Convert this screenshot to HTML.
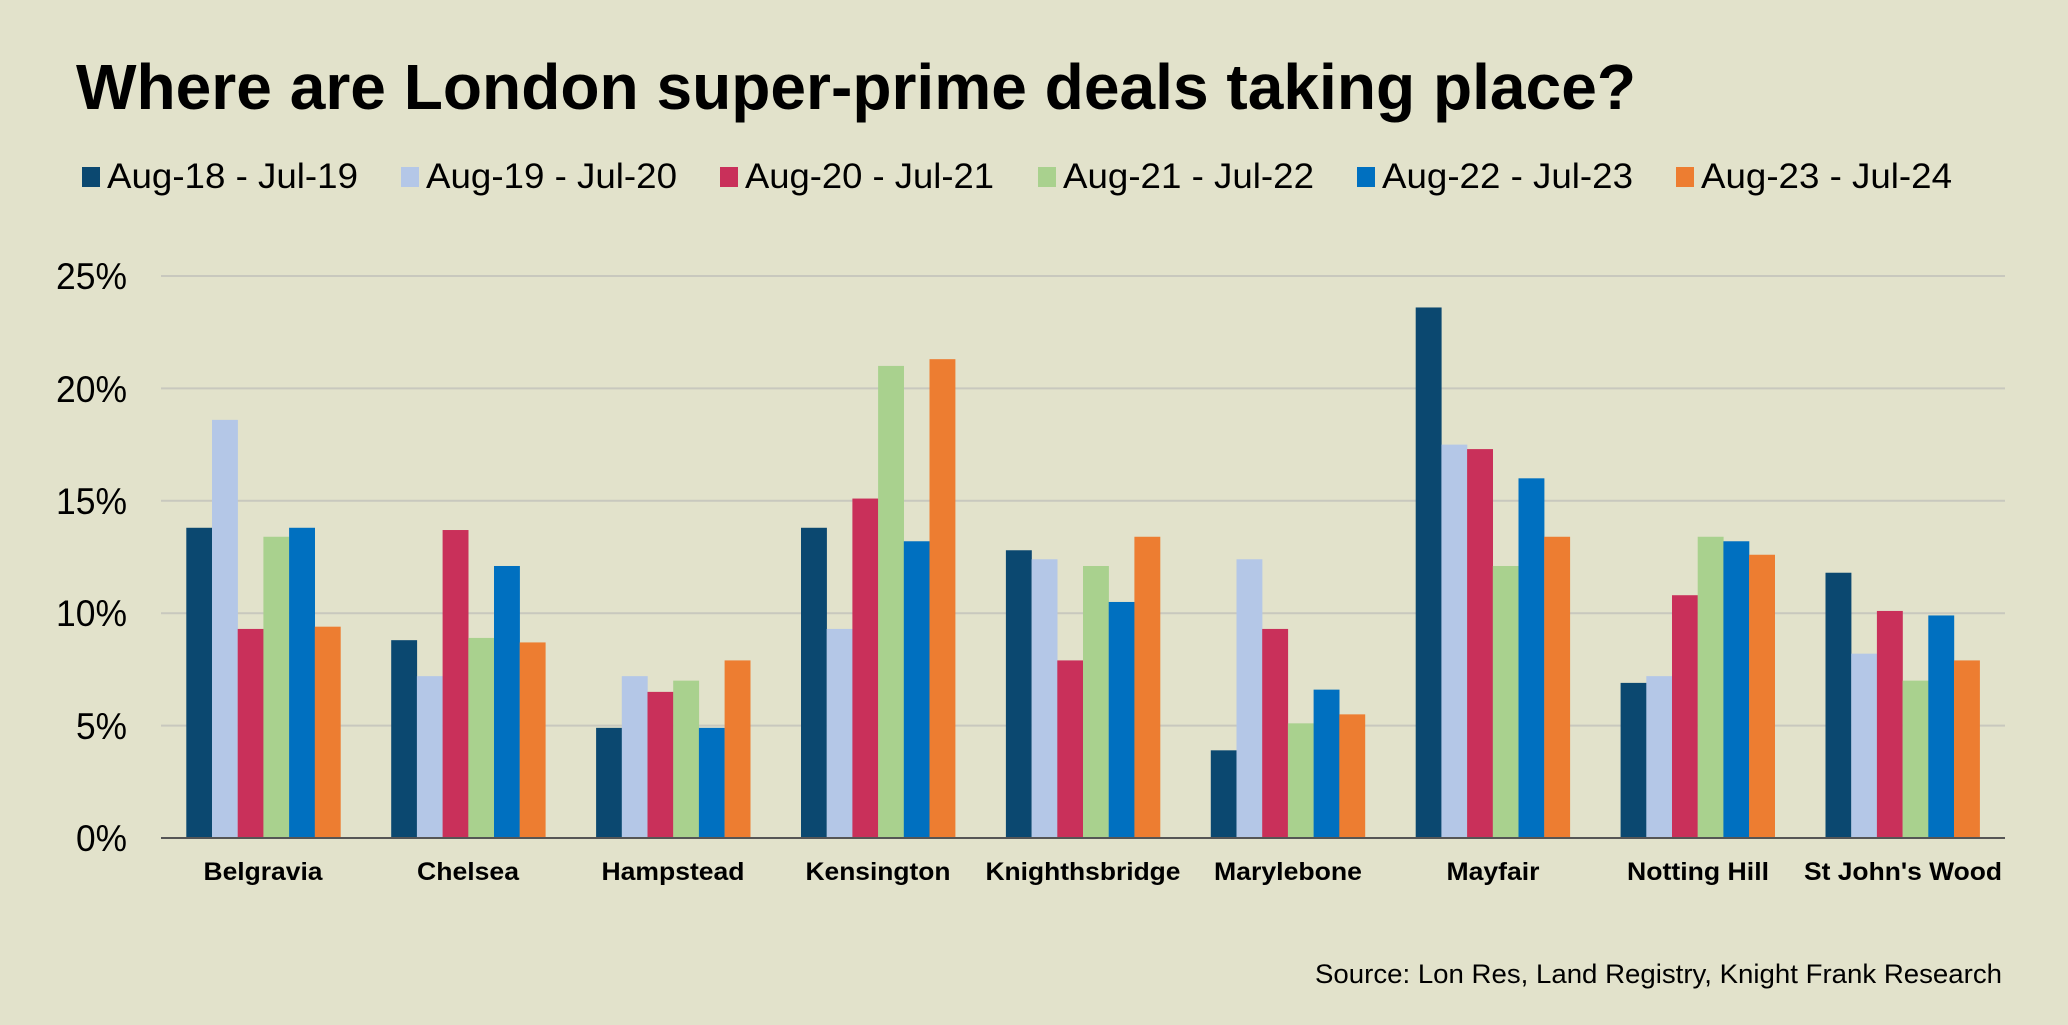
<!DOCTYPE html>
<html><head><meta charset="utf-8"><style>
html,body{margin:0;padding:0;background:#e2e2cb;}
svg{display:block;}
text{font-family:"Liberation Sans",Arial,sans-serif;fill:#000;}
</style></head><body>
<svg id="c" width="2068" height="1025" viewBox="0 0 2068 1025" xmlns="http://www.w3.org/2000/svg">
<rect width="2068" height="1025" fill="#e2e2cb"/>
<text x="76" y="109" font-size="64" font-weight="bold" textLength="1560" lengthAdjust="spacingAndGlyphs">Where are London super-prime deals taking place?</text>
<g font-size="35">
<rect x="82" y="167" width="18" height="20" fill="#0b4870"/><text x="107" y="188" textLength="251" lengthAdjust="spacingAndGlyphs">Aug-18 - Jul-19</text>
<rect x="401" y="167" width="18" height="20" fill="#b4c7e7"/><text x="426" y="188" textLength="251" lengthAdjust="spacingAndGlyphs">Aug-19 - Jul-20</text>
<rect x="720" y="167" width="18" height="20" fill="#c9305a"/><text x="745" y="188" textLength="249" lengthAdjust="spacingAndGlyphs">Aug-20 - Jul-21</text>
<rect x="1038" y="167" width="18" height="20" fill="#a9d18e"/><text x="1063" y="188" textLength="251" lengthAdjust="spacingAndGlyphs">Aug-21 - Jul-22</text>
<rect x="1357" y="167" width="18" height="20" fill="#0070c0"/><text x="1382" y="188" textLength="251" lengthAdjust="spacingAndGlyphs">Aug-22 - Jul-23</text>
<rect x="1676" y="167" width="18" height="20" fill="#ed7d31"/><text x="1701" y="188" textLength="251" lengthAdjust="spacingAndGlyphs">Aug-23 - Jul-24</text>
</g>
<g stroke="#c8c8be" stroke-width="2">
<line x1="161" x2="2005" y1="276" y2="276"/>
<line x1="161" x2="2005" y1="388.4" y2="388.4"/>
<line x1="161" x2="2005" y1="500.8" y2="500.8"/>
<line x1="161" x2="2005" y1="613.2" y2="613.2"/>
<line x1="161" x2="2005" y1="725.6" y2="725.6"/>
</g>
<g font-size="37" text-anchor="end">
<text x="127" y="289" textLength="71" lengthAdjust="spacingAndGlyphs">25%</text>
<text x="127" y="402" textLength="71" lengthAdjust="spacingAndGlyphs">20%</text>
<text x="127" y="514" textLength="71" lengthAdjust="spacingAndGlyphs">15%</text>
<text x="127" y="626" textLength="71" lengthAdjust="spacingAndGlyphs">10%</text>
<text x="127" y="739" textLength="51" lengthAdjust="spacingAndGlyphs">5%</text>
<text x="127" y="851" textLength="51" lengthAdjust="spacingAndGlyphs">0%</text>
</g>
<g id="bars"></g>
<line x1="161" x2="2005" y1="838" y2="838" stroke="#555" stroke-width="2"/>
<g font-size="25" font-weight="bold" text-anchor="middle">
<text x="263" y="880" textLength="119" lengthAdjust="spacingAndGlyphs">Belgravia</text>
<text x="468" y="880" textLength="102" lengthAdjust="spacingAndGlyphs">Chelsea</text>
<text x="673" y="880" textLength="143" lengthAdjust="spacingAndGlyphs">Hampstead</text>
<text x="878" y="880" textLength="145" lengthAdjust="spacingAndGlyphs">Kensington</text>
<text x="1083" y="880" textLength="195" lengthAdjust="spacingAndGlyphs">Knighthsbridge</text>
<text x="1288" y="880" textLength="148" lengthAdjust="spacingAndGlyphs">Marylebone</text>
<text x="1493" y="880" textLength="93" lengthAdjust="spacingAndGlyphs">Mayfair</text>
<text x="1698" y="880" textLength="142" lengthAdjust="spacingAndGlyphs">Notting Hill</text>
<text x="1903" y="880" textLength="198" lengthAdjust="spacingAndGlyphs">St John's Wood</text>
</g>
<text x="2002" y="983" font-size="27" text-anchor="end" textLength="687" lengthAdjust="spacingAndGlyphs">Source: Lon Res, Land Registry, Knight Frank Research</text>
</svg>
<script>
var d=[[13.8,18.6,9.3,13.4,13.8,9.4],[8.8,7.2,13.7,8.9,12.1,8.7],[4.9,7.2,6.5,7.0,4.9,7.9],[13.8,9.3,15.1,21.0,13.2,21.3],[12.8,12.4,7.9,12.1,10.5,13.4],[3.9,12.4,9.3,5.1,6.6,5.5],[23.6,17.5,17.3,12.1,16.0,13.4],[6.9,7.2,10.8,13.4,13.2,12.6],[11.8,8.2,10.1,7.0,9.9,7.9]];
var c=["#0b4870","#b4c7e7","#c9305a","#a9d18e","#0070c0","#ed7d31"];
var g=document.getElementById("bars"),ns="http://www.w3.org/2000/svg";
for(var i=0;i<9;i++)for(var j=0;j<6;j++){var r=document.createElementNS(ns,"rect");var h=d[i][j]*22.48;
r.setAttribute("x",161+i*204.9+25.3+j*25.7);r.setAttribute("width",25.9);r.setAttribute("y",838-h);r.setAttribute("height",h);r.setAttribute("fill",c[j]);g.appendChild(r);}
</script>
</body></html>
